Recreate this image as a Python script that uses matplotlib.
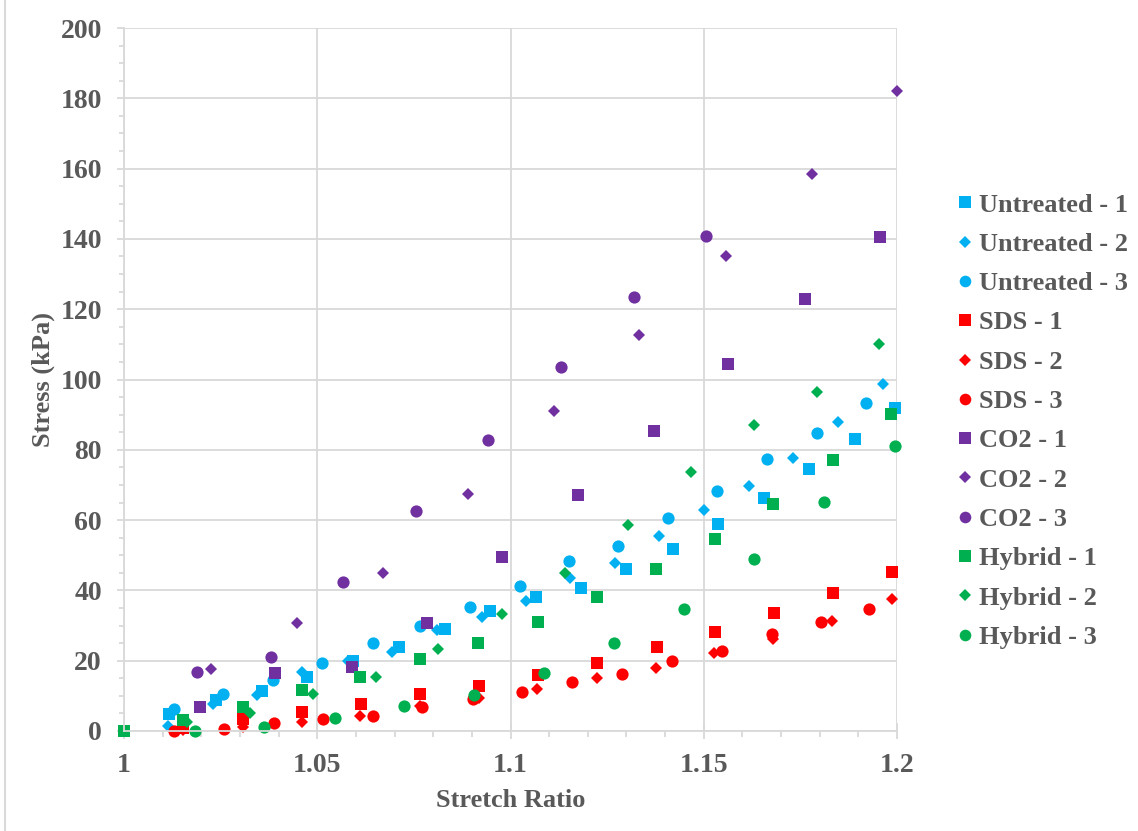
import matplotlib
matplotlib.use("Agg")
import matplotlib.pyplot as plt
from matplotlib.lines import Line2D
from matplotlib.ticker import MultipleLocator

# ---- data (stretch ratio, stress kPa) ----
untreated_1_x = [1.0117, 1.0238, 1.0356, 1.0474, 1.0593, 1.0712, 1.0830, 1.0947, 1.1065,
                 1.1182, 1.1300, 1.1420, 1.1538, 1.1656, 1.1773, 1.1891, 1.1995]
untreated_1_y = [4.7, 8.8, 11.5, 15.4, 19.9, 23.8, 28.9, 34.2, 38.0,
                 40.6, 46.0, 51.7, 58.8, 66.4, 74.5, 83.0, 91.8]
untreated_2_x = [1.0115, 1.0231, 1.0343, 1.0460, 1.0580, 1.0693, 1.0809, 1.0925, 1.1039,
                 1.1154, 1.1270, 1.1385, 1.1501, 1.1617, 1.1732, 1.1848, 1.1963]
untreated_2_y = [1.5, 7.7, 10.2, 16.9, 19.9, 22.6, 28.7, 32.3, 37.1,
                 43.4, 47.7, 55.5, 62.9, 69.7, 77.8, 87.8, 98.7]
untreated_3_x = [1.0129, 1.0257, 1.0385, 1.0511, 1.0643, 1.0766, 1.0895, 1.1025,
                 1.1151, 1.1279, 1.1408, 1.1535, 1.1663, 1.1792, 1.1919]
untreated_3_y = [6.2, 10.4, 14.5, 19.3, 24.9, 30.0, 35.4, 41.3,
                 48.3, 52.6, 60.6, 68.3, 77.3, 84.7, 93.4]

sds_1_x = [1.0153, 1.0307, 1.0460, 1.0613, 1.0766, 1.0918, 1.1072, 1.1225,
           1.1378, 1.1529, 1.1683, 1.1835, 1.1986]
sds_1_y = [0.8, 3.3, 5.5, 7.7, 10.5, 12.9, 15.9, 19.3, 23.8, 28.2, 33.7, 39.2, 45.3]
sds_2_x = [1.0153, 1.0307, 1.0460, 1.0610, 1.0765, 1.0918, 1.1069, 1.1223,
           1.1376, 1.1527, 1.1680, 1.1833, 1.1986]
sds_2_y = [0.3, 1.2, 2.7, 4.4, 7.0, 9.5, 11.9, 15.0, 18.0, 22.1, 26.2, 31.3, 37.5]
sds_3_x = [1.0129, 1.0259, 1.0388, 1.0516, 1.0643, 1.0770, 1.0904, 1.1030,
           1.1158, 1.1288, 1.1417, 1.1546, 1.1676, 1.1803, 1.1928]
sds_3_y = [0.0, 0.7, 2.2, 3.3, 4.4, 6.9, 9.0, 11.2, 14.0, 16.2, 20.0, 22.9, 27.5, 30.9, 34.6]

co2_1_x = [1.0197, 1.0391, 1.0589, 1.0783, 1.0979, 1.1174, 1.1371, 1.1564, 1.1762, 1.1956]
co2_1_y = [6.8, 16.4, 18.1, 30.8, 49.4, 67.1, 85.4, 104.3, 122.8, 140.4]
co2_2_x = [1.0225, 1.0447, 1.0669, 1.0891, 1.1113, 1.1332, 1.1557, 1.1779, 1.2001]
co2_2_y = [17.5, 30.8, 44.9, 67.3, 91.0, 112.6, 135.1, 158.4, 182.2]
co2_3_x = [1.0190, 1.0380, 1.0567, 1.0755, 1.0941, 1.1131, 1.1320, 1.1506]
co2_3_y = [16.7, 21.0, 42.5, 62.6, 82.8, 103.6, 123.6, 140.9]

hybrid_1_x = [1.0000, 1.0153, 1.0307, 1.0460, 1.0611, 1.0766, 1.0917, 1.1070,
              1.1223, 1.1376, 1.1529, 1.1680, 1.1834, 1.1984]
hybrid_1_y = [0.0, 3.1, 6.9, 11.7, 15.5, 20.4, 24.9, 31.1, 38.2, 46.2, 54.6, 64.6, 77.1, 90.1]
hybrid_2_x = [1.0164, 1.0326, 1.0490, 1.0652, 1.0813, 1.0979, 1.1140, 1.1303,
              1.1466, 1.1630, 1.1792, 1.1954]
hybrid_2_y = [2.5, 5.2, 10.4, 15.5, 23.2, 33.3, 45.0, 58.6, 73.6, 87.1, 96.5, 110.1]
hybrid_3_x = [1.0183, 1.0363, 1.0546, 1.0725, 1.0906, 1.1087, 1.1268, 1.1450,
              1.1631, 1.1811, 1.1995]
hybrid_3_y = [0.0, 1.2, 3.6, 7.2, 10.2, 16.4, 25.1, 34.6, 48.9, 65.1, 81.1]

x_tick_labels = ["1", "1.05", "1.1", "1.15", "1.2"]

series = [
    ("Untreated - 1", untreated_1_x, untreated_1_y, "#00B0F0", "s"),
    ("Untreated - 2", untreated_2_x, untreated_2_y, "#00B0F0", "D"),
    ("Untreated - 3", untreated_3_x, untreated_3_y, "#00B0F0", "o"),
    ("SDS - 1", sds_1_x, sds_1_y, "#FF0000", "s"),
    ("SDS - 2", sds_2_x, sds_2_y, "#FF0000", "D"),
    ("SDS - 3", sds_3_x, sds_3_y, "#FF0000", "o"),
    ("CO2 - 1", co2_1_x, co2_1_y, "#7030A0", "s"),
    ("CO2 - 2", co2_2_x, co2_2_y, "#7030A0", "D"),
    ("CO2 - 3", co2_3_x, co2_3_y, "#7030A0", "o"),
    ("Hybrid - 1", hybrid_1_x, hybrid_1_y, "#00B050", "s"),
    ("Hybrid - 2", hybrid_2_x, hybrid_2_y, "#00B050", "D"),
    ("Hybrid - 3", hybrid_3_x, hybrid_3_y, "#00B050", "o"),
]
marker_sizes = {"s": 8.5, "D": 6.0, "o": 8.8}

TEXT = "#595959"
GRID = "#D9D9D9"
plt.rcParams["font.family"] = ["Liberation Serif", "DejaVu Serif"]
plt.rcParams["font.weight"] = "bold"

fig = plt.figure(figsize=(11.38, 8.31), dpi=100)
ax = fig.add_axes([124 / 1138, 100 / 831, 773 / 1138, 703 / 831])

for label, xs, ys, color, marker in series:
    ax.plot(xs, ys, linestyle="none", marker=marker, markersize=marker_sizes[marker],
            color=color, markeredgewidth=0, label=label, clip_on=False)

ax.set_xlim(1, 1.2)
ax.set_ylim(0, 200)
ax.set_xticks([1, 1.05, 1.1, 1.15, 1.2])
ax.set_xticklabels(x_tick_labels)
ax.xaxis.set_minor_locator(MultipleLocator(0.01))
ax.yaxis.set_major_locator(MultipleLocator(20))
ax.yaxis.set_minor_locator(MultipleLocator(5))

ax.grid(True, which="major", color=GRID, linewidth=1.3)
ax.set_axisbelow(True)
for side in ["top", "right"]:
    ax.spines[side].set_visible(False)
for side in ["left", "bottom"]:
    ax.spines[side].set_color(GRID)
    ax.spines[side].set_linewidth(1.3)

ax.tick_params(axis="x", which="major", direction="inout", length=11, width=1.3,
               color=GRID, pad=10, labelsize=20, labelcolor=TEXT)
ax.tick_params(axis="x", which="minor", direction="out", length=4, width=1.3, color=GRID)
ax.tick_params(axis="y", which="major", direction="out", length=5, width=1.3,
               color=GRID, pad=11, labelsize=20, labelcolor=TEXT)
ax.tick_params(axis="y", which="minor", direction="out", length=3.6, width=1.3, color=GRID)

ax.set_xlabel("Stretch Ratio", fontsize=19, fontweight="bold", color=TEXT, labelpad=8)
ax.set_ylabel("Stress (kPa)", fontsize=19, fontweight="bold", color=TEXT, labelpad=4)

leg = ax.legend(loc="center left", bbox_to_anchor=(1.043, 0.441), frameon=False,
                fontsize=19, handletextpad=0.15, labelspacing=0.6,
                handlelength=0.8, markerscale=0.95)
for t in leg.get_texts():
    t.set_color(TEXT)
    t.set_fontweight("bold")

# thin chart-area border on the left
fig.add_artist(Line2D([4.5 / 1138, 4.5 / 1138], [0, 1], color=GRID, linewidth=1.5))

fig.savefig("out.png", dpi=100)
